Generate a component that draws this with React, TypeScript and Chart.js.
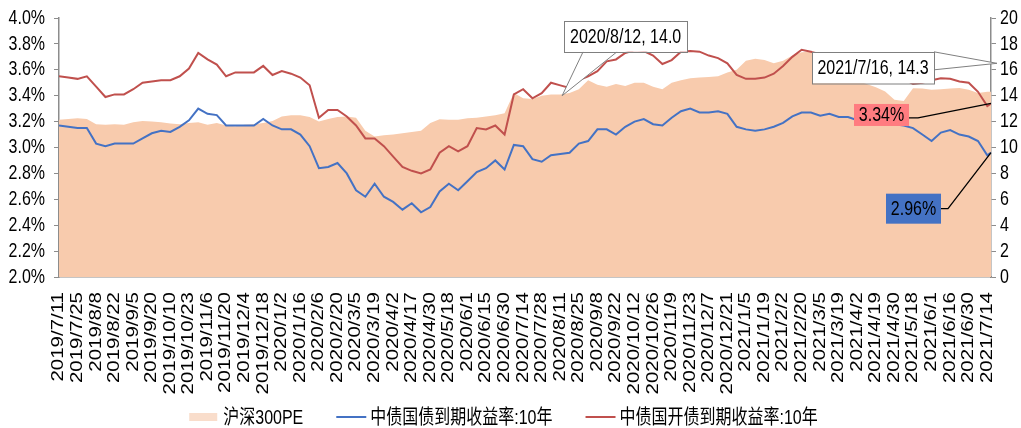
import React, { useEffect, useRef } from 'react';
import { Chart, registerables } from 'chart.js';

Chart.register(...registerables);

const FAMILY = "'Liberation Sans', Arial, 'Noto Sans CJK SC', sans-serif";
const FONT_PX = 16;
const TEXT_STRETCH_Y = 1.28;

// x-axis tick labels (every 10 trading days)
const tickDates = [
  '2019/7/11', '2019/7/25', '2019/8/8', '2019/8/22', '2019/9/5', '2019/9/20', '2019/10/10', '2019/10/23',
  '2019/11/6', '2019/11/20', '2019/12/4', '2019/12/18', '2020/1/2', '2020/1/16', '2020/2/6', '2020/2/20',
  '2020/3/5', '2020/3/19', '2020/4/2', '2020/4/17', '2020/4/30', '2020/5/18', '2020/6/1', '2020/6/15',
  '2020/6/30', '2020/7/14', '2020/7/28', '2020/8/11', '2020/8/25', '2020/9/8', '2020/9/22', '2020/10/12',
  '2020/10/26', '2020/11/9', '2020/11/23', '2020/12/7', '2020/12/21', '2021/1/5', '2021/1/19', '2021/2/2',
  '2021/2/20', '2021/3/5', '2021/3/19', '2021/4/2', '2021/4/19', '2021/4/30', '2021/5/18', '2021/6/1',
  '2021/6/16', '2021/6/30', '2021/7/14',
];

// trading-day index of each sample (weekly sampling, last = 2021/7/16)
const sampleDay = [...Array.from({ length: 101 }, (_, i) => i * 5), 502];

const seriesNames = ['沪深300PE', '中债国债到期收益率:10年', '中债国开债到期收益率:10年'];

// 沪深300PE (right axis)
const pe = [
  12.15, 12.2, 12.25, 12.2, 11.8, 11.75, 11.8, 11.75, 11.95, 12.05,
  12.0, 11.95, 11.85, 11.8, 11.9, 11.95, 11.75, 11.9, 11.7, 11.65,
  11.75, 11.8, 11.9, 12.05, 12.4, 12.5, 12.5, 12.35, 12.0, 12.2,
  12.35, 12.4, 12.3, 11.3, 10.85, 10.95, 11.0, 11.1, 11.2, 11.3,
  11.9, 12.18, 12.15, 12.15, 12.25, 12.3, 12.4, 12.5, 12.65, 14.2,
  13.8, 13.75, 14.0, 14.1, 14.1, 14.2, 14.5, 15.2, 14.85, 14.7,
  14.9, 14.75, 15.0, 15.0, 14.7, 14.5, 15.0, 15.2, 15.35, 15.4,
  15.45, 15.5, 15.8, 16.0, 16.7, 16.85, 16.75, 16.5, 16.7, 17.1,
  17.35, 17.4, 17.0, 16.3, 15.8, 15.5, 15.2, 14.9, 14.66, 14.32,
  13.68, 13.6, 14.58, 14.55, 14.45, 14.5, 14.55, 14.6, 14.45, 14.2,
  14.3, 14.3,
];

// 中债国债到期收益率:10年 (%)
const cgb10y = [
  3.17, 3.16, 3.15, 3.15, 3.03, 3.01, 3.03, 3.03, 3.03, 3.07,
  3.11, 3.13, 3.12, 3.16, 3.21, 3.30, 3.26, 3.25, 3.17, 3.17,
  3.17, 3.17, 3.22, 3.17, 3.14, 3.14, 3.10, 3.01, 2.84, 2.85,
  2.88, 2.80, 2.67, 2.62, 2.72, 2.62, 2.58, 2.52, 2.57, 2.50,
  2.54, 2.66, 2.72, 2.67, 2.74, 2.81, 2.84, 2.90, 2.83, 3.02,
  3.01, 2.91, 2.89, 2.94, 2.95, 2.96, 3.03, 3.05, 3.14, 3.14,
  3.10, 3.16, 3.20, 3.22, 3.18, 3.17, 3.23, 3.28, 3.30, 3.27,
  3.27, 3.28, 3.26, 3.16, 3.14, 3.13, 3.14, 3.16, 3.19, 3.24,
  3.27, 3.27, 3.245, 3.26, 3.235, 3.235, 3.21, 3.20, 3.19, 3.18,
  3.18, 3.17, 3.15, 3.10, 3.05, 3.115, 3.135, 3.10, 3.085, 3.05,
  2.94, 2.96,
];

// 中债国开债到期收益率:10年 (%)
const cdb10y = [
  3.55, 3.54, 3.53, 3.55, 3.47, 3.39, 3.41, 3.41, 3.45, 3.50,
  3.51, 3.52, 3.52, 3.55, 3.61, 3.73, 3.68, 3.64, 3.55, 3.58,
  3.58, 3.58, 3.63, 3.56, 3.59, 3.57, 3.54, 3.48, 3.23, 3.29,
  3.29, 3.24, 3.17, 3.07, 3.07, 3.01, 2.93, 2.85, 2.82, 2.80,
  2.83, 2.96, 3.01, 2.97, 3.01, 3.15, 3.14, 3.17, 3.10, 3.41,
  3.45, 3.38, 3.42, 3.50, 3.48, 3.46, 3.52, 3.55, 3.59, 3.665,
  3.68, 3.73, 3.75, 3.745, 3.71, 3.645, 3.675, 3.74, 3.745, 3.74,
  3.71, 3.69, 3.65, 3.56, 3.53, 3.53, 3.54, 3.57, 3.63, 3.70,
  3.755, 3.74, 3.72, 3.70, 3.68, 3.66, 3.64, 3.62, 3.60, 3.58,
  3.56, 3.53, 3.49, 3.50, 3.52, 3.535, 3.53, 3.51, 3.50, 3.43,
  3.32, 3.34,
];

// callout annotations
const peCalloutDay = 271;
const peCalloutValue = 14.0;
const peCalloutText = '2020/8/12, 14.0';
const endCalloutText = '2021/7/16, 14.3';
const endCalloutAxisValue = 16.5;

const C_PE = '#F8CBAD';
const C_PE_LEGEND = '#F9DDCB';
const C_BLUE = '#4472C4';
const C_RED = '#C0504D';
const C_AXIS = '#8C8C8C';

function stretchedText(
  ctx: CanvasRenderingContext2D, text: string, x: number, y: number,
  align: CanvasTextAlign, rotate = false,
) {
  ctx.save();
  ctx.translate(x, y);
  ctx.scale(1, TEXT_STRETCH_Y);
  if (rotate) ctx.rotate(-Math.PI / 2);
  ctx.textAlign = align;
  ctx.textBaseline = 'middle';
  ctx.fillText(text, 0, 0);
  ctx.restore();
}

const overlayPlugin = {
  id: 'overlay',
  afterDraw(chart: any) {
    const { ctx, chartArea: ca, scales } = chart;
    const xs = scales.x;
    const yl = scales.y;
    const yr = scales.y2;
    ctx.save();
    ctx.font = `${FONT_PX}px ${FAMILY}`;
    ctx.fillStyle = '#000000';

    // axis tick labels
    yl.ticks.forEach((t: any) => {
      stretchedText(ctx, Number(t.value).toFixed(1) + '%', ca.left - 14, yl.getPixelForValue(t.value), 'right');
    });
    yr.ticks.forEach((t: any) => {
      stretchedText(ctx, String(Math.round(t.value)), ca.right + 9, yr.getPixelForValue(t.value), 'left');
    });
    xs.ticks.forEach((t: any) => {
      const i = Math.round(t.value / 10);
      if (Math.abs(t.value - i * 10) > 0.01 || !tickDates[i]) return;
      stretchedText(ctx, tickDates[i], xs.getPixelForValue(t.value), ca.bottom + 15, 'right', true);
    });

    const callout = (
      ax: number, ay: number, bx: number, by: number, bw: number, bh: number,
      w1x: number, w1y: number, w2x: number, w2y: number, text: string,
    ) => {
      ctx.beginPath();
      ctx.moveTo(w1x, w1y);
      ctx.lineTo(ax, ay);
      ctx.lineTo(w2x, w2y);
      ctx.closePath();
      ctx.fillStyle = '#FFFFFF';
      ctx.fill();
      ctx.strokeStyle = '#7F7F7F';
      ctx.lineWidth = 1;
      ctx.beginPath();
      ctx.moveTo(w1x, w1y);
      ctx.lineTo(ax, ay);
      ctx.lineTo(w2x, w2y);
      ctx.stroke();
      ctx.fillStyle = '#FFFFFF';
      ctx.fillRect(bx, by, bw, bh);
      ctx.strokeRect(Math.round(bx) + 0.5, Math.round(by) + 0.5, bw, bh);
      ctx.fillStyle = '#000000';
      stretchedText(ctx, text, bx + bw / 2, by + bh / 2 + 1, 'center');
    };

    // 2020/8/12 callout
    const a1x = xs.getPixelForValue(peCalloutDay);
    const a1y = yr.getPixelForValue(peCalloutValue);
    callout(a1x, a1y, a1x + 2, a1y - 75, 123, 31, a1x + 21, a1y - 44, a1x + 55, a1y - 44, peCalloutText);

    // 2021/7/16 callout
    const a2x = ca.right + 6;
    const a2y = yr.getPixelForValue(endCalloutAxisValue);
    callout(a2x, a2y, a2x - 185, a2y - 11.5, 122, 31.5, a2x - 63, a2y - 11.5, a2x - 63, a2y + 6.5, endCalloutText);

    const last = sampleDay.length - 1;
    const lx = xs.getPixelForValue(sampleDay[last]);

    // red value label
    const a3y = yl.getPixelForValue(cdb10y[last]);
    ctx.strokeStyle = '#000000';
    ctx.lineWidth = 1.3;
    ctx.beginPath();
    ctx.moveTo(lx - 82, a3y + 14.5);
    ctx.lineTo(lx - 73, a3y + 14.5);
    ctx.lineTo(lx, a3y);
    ctx.stroke();
    ctx.fillStyle = '#FF7C80';
    ctx.fillRect(lx - 137, a3y + 0.5, 55, 22);
    ctx.fillStyle = '#000000';
    stretchedText(ctx, cdb10y[last].toFixed(2) + '%', lx - 137 + 27.5, a3y + 12, 'center');

    // blue value label
    const a4y = yl.getPixelForValue(cgb10y[last]);
    ctx.beginPath();
    ctx.moveTo(lx - 50, a4y + 56);
    ctx.lineTo(lx - 43, a4y + 56);
    ctx.lineTo(lx, a4y);
    ctx.stroke();
    ctx.fillStyle = C_BLUE;
    ctx.fillRect(lx - 105, a4y + 41, 55, 30);
    ctx.fillStyle = '#000000';
    stretchedText(ctx, cgb10y[last].toFixed(2) + '%', lx - 105 + 27.5, a4y + 56.5, 'center');

    // legend
    const ly = 417;
    const sym = 30;
    const gapSym = 4;
    const gapItem = 33;
    const widths = seriesNames.map((n) => ctx.measureText(n).width);
    const total = widths.reduce((s, w) => s + w + sym + gapSym, 0) + gapItem * (seriesNames.length - 1);
    let x = chart.width / 2 - 7 - total / 2;
    const legendColors = [C_PE_LEGEND, C_BLUE, C_RED];
    seriesNames.forEach((n, i) => {
      if (i === 0) {
        ctx.fillStyle = legendColors[i];
        ctx.fillRect(x, ly - 4, sym - 2, 8);
      } else {
        ctx.strokeStyle = legendColors[i];
        ctx.lineWidth = 2;
        ctx.beginPath();
        ctx.moveTo(x, ly);
        ctx.lineTo(x + sym, ly);
        ctx.stroke();
      }
      x += sym + gapSym;
      ctx.fillStyle = '#000000';
      stretchedText(ctx, n, x, ly + 1, 'left');
      x += widths[i] + gapItem;
    });
    ctx.restore();
  },
};

export default function App() {
  const ref = useRef<HTMLCanvasElement | null>(null);

  useEffect(() => {
    if (!ref.current) return;
    const chart = new Chart(ref.current, {
      type: 'line',
      data: {
        labels: sampleDay,
        datasets: [
          {
            label: seriesNames[1],
            data: cgb10y,
            yAxisID: 'y',
            borderColor: C_BLUE,
            borderWidth: 2,
            pointRadius: 0,
            tension: 0,
            fill: false,
          },
          {
            label: seriesNames[2],
            data: cdb10y,
            yAxisID: 'y',
            borderColor: C_RED,
            borderWidth: 2,
            pointRadius: 0,
            tension: 0,
            fill: false,
          },
          {
            label: seriesNames[0],
            data: pe,
            yAxisID: 'y2',
            borderColor: 'rgba(0,0,0,0)',
            borderWidth: 0,
            backgroundColor: C_PE,
            pointRadius: 0,
            tension: 0,
            fill: 'origin',
          },
        ],
      },
      options: {
        responsive: false,
        animation: false,
        devicePixelRatio: 1,
        layout: { padding: { top: 18, bottom: 31, left: 0, right: 0 } },
        plugins: { legend: { display: false }, tooltip: { enabled: false } },
        scales: {
          x: {
            type: 'linear',
            min: 0,
            max: 502,
            grid: { display: false, drawTicks: false },
            border: { display: true, color: C_AXIS, width: 1.5 },
            ticks: {
              display: false,
              stepSize: 10,
              autoSkip: false,
              includeBounds: false,
              callback: (v: any) => {
                const i = Math.round(Number(v) / 10);
                return tickDates[i] ?? '';
              },
            },
            afterFit: (s: any) => {
              s.height = 120;
              s.paddingLeft = 0;
              s.paddingRight = 0;
            },
          },
          y: {
            position: 'left',
            min: 2,
            max: 4,
            grid: { drawOnChartArea: false, drawTicks: true, tickLength: 5, color: C_AXIS },
            border: { display: true, color: C_AXIS, width: 1.5 },
            ticks: {
              display: false,
              stepSize: 0.2,
              callback: (v: any) => Number(v).toFixed(1) + '%',
            },
            afterFit: (s: any) => {
              s.width = 59;
            },
          },
          y2: {
            position: 'right',
            min: 0,
            max: 20,
            grid: { drawOnChartArea: false, drawTicks: true, tickLength: 5, color: C_AXIS },
            border: { display: true, color: C_AXIS, width: 1.5 },
            ticks: {
              display: false,
              stepSize: 2,
            },
            afterFit: (s: any) => {
              s.width = 30;
            },
          },
        },
      },
      plugins: [overlayPlugin],
    });
    return () => chart.destroy();
  }, []);

  return (
    <div style={{ position: 'absolute', left: 0, top: 0, width: 1021, height: 428, background: '#fff' }}>
      <canvas ref={ref} width={1021} height={428} style={{ display: 'block' }} />
    </div>
  );
}
